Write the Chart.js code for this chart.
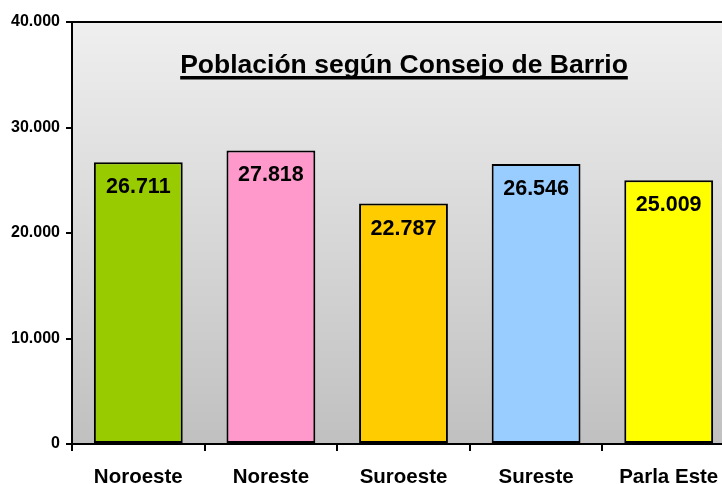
<!DOCTYPE html>
<html><head><meta charset="utf-8">
<script src="https://cdn.jsdelivr.net/npm/chart.js@4/dist/chart.umd.min.js"></script>
<style>html,body{margin:0;padding:0;overflow:hidden;background:#fff;width:722px;height:484px}canvas{display:block}</style>
</head><body>
<canvas id="c" width="760" height="484" style="width:760px;height:484px"></canvas>
<script>
const categories = ['Noroeste', 'Noreste', 'Suroeste', 'Sureste', 'Parla Este'];
const population = [26711, 27818, 22787, 26546, 25009];
const barColors = ['#99cc00', '#ff99cc', '#ffcc00', '#99ccff', '#ffff00'];
const chartTitle = 'Población según Consejo de Barrio';
const yTicks = [0, 10000, 20000, 30000, 40000];

const FONT = '"Liberation Sans", Arial, sans-serif';
const fmt = v => String(v).replace(/\B(?=(\d{3})+(?!\d))/g, '.');

const bgPlugin = {
  id: 'bg',
  beforeDraw(chart) {
    const {ctx, chartArea: a} = chart;
    const g = ctx.createLinearGradient(0, a.top, 0, a.bottom);
    g.addColorStop(0, '#efefef');
    g.addColorStop(1, '#c0c0c0');
    ctx.save();
    ctx.fillStyle = g;
    ctx.fillRect(a.left, a.top, a.right - a.left, a.bottom - a.top);
    ctx.restore();
  },
  afterDraw(chart) {
    const {ctx, chartArea: a} = chart;
    ctx.save();
    ctx.strokeStyle = '#000';
    ctx.lineWidth = 2;
    ctx.beginPath();
    ctx.moveTo(a.left - 1, a.top);
    ctx.lineTo(a.right + 1, a.top);
    ctx.moveTo(a.right, a.top);
    ctx.lineTo(a.right, a.bottom);
    ctx.stroke();
    // title
    ctx.font = 'bold 26.5px ' + FONT;
    ctx.fillStyle = '#000';
    ctx.textAlign = 'center';
    ctx.textBaseline = 'alphabetic';
    const cx = 404, by = 73;
    ctx.fillText(chartTitle, cx, by);
    const w = ctx.measureText(chartTitle).width;
    ctx.fillRect(cx - w / 2, by + 3, w, 3.5);
    ctx.restore();
  },
  afterDatasetsDraw(chart) {
    const {ctx} = chart;
    const meta = chart.getDatasetMeta(0);
    ctx.save();
    ctx.font = 'bold 21.5px ' + FONT;
    ctx.fillStyle = '#000';
    ctx.textAlign = 'center';
    ctx.textBaseline = 'middle';
    meta.data.forEach((bar, i) => {
      ctx.fillText(fmt(population[i]), bar.x, bar.y + 25);
    });
    ctx.restore();
  }
};

new Chart(document.getElementById('c'), {
  type: 'bar',
  data: {
    labels: categories,
    datasets: [{
      data: population,
      backgroundColor: barColors,
      borderColor: '#000',
      borderWidth: 2,
      borderSkipped: false,
      categoryPercentage: 1,
      barPercentage: 0.67
    }]
  },
  options: {
    responsive: false,
    animation: false,
    devicePixelRatio: 1,
    layout: {padding: {top: 22, right: 25, left: 0, bottom: 0}},
    plugins: {legend: {display: false}, tooltip: {enabled: false}, title: {display: false}},
    scales: {
      y: {
        min: 0, max: 40000,
        afterBuildTicks(s) { s.ticks = yTicks.map(v => ({value: v})); },
        afterFit(s) { s.width = 72; },
        ticks: {
          callback: v => fmt(v),
          color: '#000',
          padding: 6,
          font: {family: FONT, size: 16, weight: 'bold'}
        },
        grid: {drawOnChartArea: false, drawTicks: true, tickLength: 6, color: '#000', lineWidth: 2},
        border: {color: '#000', width: 2}
      },
      x: {
        afterFit(s) { s.height = 40; },
        ticks: {
          color: '#000',
          padding: 14.5,
          font: {family: FONT, size: 20.5, weight: 'bold'},
          maxRotation: 0
        },
        grid: {offset: true, drawOnChartArea: false, drawTicks: true, tickLength: 7, color: '#000', lineWidth: 2},
        border: {color: '#000', width: 2}
      }
    }
  },
  plugins: [bgPlugin]
});
</script>
</body></html>
